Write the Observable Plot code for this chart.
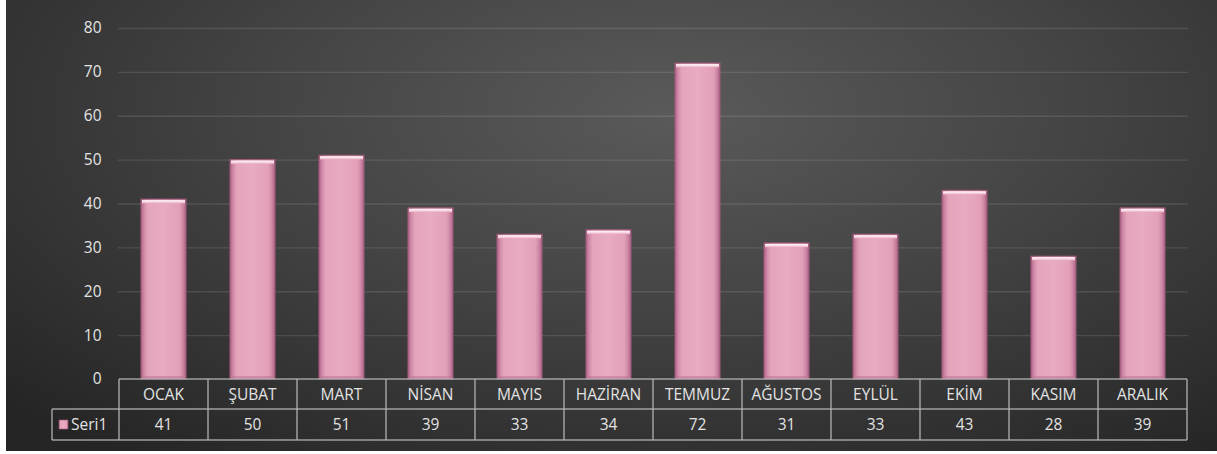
<!DOCTYPE html>
<html>
<head>
<meta charset="utf-8">
<script src="https://cdn.jsdelivr.net/npm/d3@7"></script>
<script src="https://cdn.jsdelivr.net/npm/@observablehq/plot@0.6"></script>
<style>
  html, body { margin: 0; padding: 0; background: #ffffff; }
  #chart {
    position: absolute; left: 6px; top: 0; width: 1211px; height: 451px;
    background: radial-gradient(ellipse 75% 95% at 55% 25%, #5a5a5a 0%, #444444 45%, #252525 100%);
    overflow: hidden;
  }
</style>
</head>
<body>
<div id="chart"></div>
<script>
const months = ["OCAK","ŞUBAT","MART","NİSAN","MAYIS","HAZİRAN","TEMMUZ","AĞUSTOS","EYLÜL","EKİM","KASIM","ARALIK"];
const values = [41,50,51,39,33,34,72,31,33,43,28,39];
const seriesName = "Seri1";
const yTicks = [0,10,20,30,40,50,60,70,80];

const data = months.map((m, i) => ({month: m, value: values[i]}));
const FONT = "'Open Sans', 'Noto Sans', sans-serif";
const FS = 15.5;
const TEXT = "#e3e3e3";
const W = 1211, H = 451;

const plot = Plot.plot({
  width: W, height: H,
  marginLeft: 112, marginRight: 29, marginTop: 28, marginBottom: 72,
  style: {background: "transparent", color: TEXT, fontFamily: FONT, fontSize: FS + "px"},
  x: {domain: months, paddingInner: 0.5, paddingOuter: 0.25, axis: null},
  y: {domain: [0, 80], ticks: yTicks, tickSize: 0, tickPadding: 17, label: null},
  marks: [
    Plot.ruleY(yTicks.filter(t => t > 0), {stroke: "#ffffff", strokeOpacity: 0.11, strokeWidth: 1.3}),
    Plot.barY(data, {x: "month", y: "value", fill: "url(#barGrad)", stroke: "#a35b7c", strokeWidth: 1}),
    Plot.barY(data, {x: "month", y1: d => d.value - 1.2, y2: "value", fill: "url(#capGrad)", inset: 1}),
    Plot.barY(data, {x: "month", y1: 0, y2: 0.9, fill: "#c07594", fillOpacity: 0.6, inset: 1})
  ]
});

const svg = d3.select(plot);
const defs = svg.insert("defs", ":first-child");
const g1 = defs.append("linearGradient").attr("id", "barGrad").attr("x1", 0).attr("x2", 1).attr("y1", 0).attr("y2", 0);
[[0, "#ad6587"], [0.07, "#d28aa8"], [0.15, "#e4a4bc"], [0.5, "#e8abc1"], [0.85, "#e2a0b9"], [0.93, "#ce88a5"], [1, "#aa6385"]]
  .forEach(([o, c]) => g1.append("stop").attr("offset", o).attr("stop-color", c));
const g2 = defs.append("linearGradient").attr("id", "capGrad").attr("x1", 0).attr("x2", 0).attr("y1", 0).attr("y2", 1);
[[0, "#fff6f9"], [0.45, "#f9dee8"], [1, "#e8abc1"]]
  .forEach(([o, c]) => g2.append("stop").attr("offset", o).attr("stop-color", c));

svg.selectAll("[aria-label='y-axis tick label'], [aria-label='y-axis tick label'] text").attr("font-size", FS);

document.getElementById("chart").appendChild(plot);

// data table drawn from Plot's own scales
const xs = plot.scale("x"), ys = plot.scale("y");
const step = xs.step, bw = xs.bandwidth;
const colLeft = m => xs.apply(m) - (step - bw) / 2;
const left = colLeft(months[0]);
const right = colLeft(months[months.length - 1]) + step;
const yTop = ys.apply(0);
const yMid = yTop + 30;
const yBot = yMid + 31;
const legendLeft = 46;
const tbl = svg.append("g").attr("stroke", "#b3b3b3").attr("stroke-width", 1.5).attr("stroke-opacity", 0.85);
tbl.append("line").attr("x1", left).attr("x2", right).attr("y1", yTop).attr("y2", yTop);
tbl.append("line").attr("x1", legendLeft).attr("x2", right).attr("y1", yMid).attr("y2", yMid);
tbl.append("line").attr("x1", legendLeft).attr("x2", right).attr("y1", yBot).attr("y2", yBot);
tbl.append("line").attr("x1", legendLeft).attr("x2", legendLeft).attr("y1", yMid).attr("y2", yBot);
months.forEach(m => {
  const x = colLeft(m);
  tbl.append("line").attr("x1", x).attr("x2", x).attr("y1", yTop).attr("y2", yBot);
});
tbl.append("line").attr("x1", right).attr("x2", right).attr("y1", yTop).attr("y2", yBot);

const txt = svg.append("g").attr("fill", TEXT).attr("font-family", FONT).attr("font-size", FS).attr("text-anchor", "middle");
data.forEach(d => {
  const cx = colLeft(d.month) + step / 2;
  txt.append("text").attr("x", cx).attr("y", (yTop + yMid) / 2 + 1).attr("dy", "0.35em").text(d.month);
  txt.append("text").attr("x", cx).attr("y", (yMid + yBot) / 2).attr("dy", "0.35em").text(d.value);
});
svg.append("rect").attr("x", 53).attr("y", (yMid + yBot) / 2 - 4.5).attr("width", 9).attr("height", 9).attr("fill", "url(#barGrad)").attr("stroke", "#a35b7c").attr("stroke-width", 0.6);
svg.append("text").attr("x", 65).attr("y", (yMid + yBot) / 2).attr("dy", "0.35em").attr("text-anchor", "start")
  .attr("fill", TEXT).attr("font-family", FONT).attr("font-size", FS).text(seriesName);
</script>
</body>
</html>
